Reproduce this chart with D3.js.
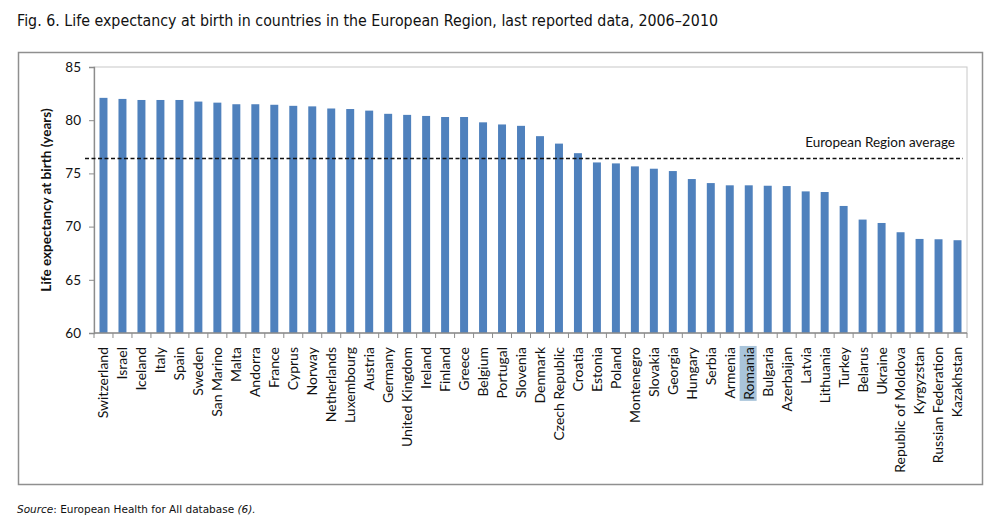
<!DOCTYPE html>
<html>
<head>
<meta charset="utf-8">
<script src="https://cdn.jsdelivr.net/npm/d3@7"></script>
<style>
  body { margin: 0; background: #fff; }
  svg { display: block; }
</style>
</head>
<body>
<div id="chart"></div>
<script>
// countries, ordered as in the figure
const countries = ["Switzerland", "Israel", "Iceland", "Italy", "Spain", "Sweden", "San Marino", "Malta",
  "Andorra", "France", "Cyprus", "Norway", "Netherlands", "Luxembourg", "Austria", "Germany",
  "United Kingdom", "Ireland", "Finland", "Greece", "Belgium", "Portugal", "Slovenia", "Denmark",
  "Czech Republic", "Croatia", "Estonia", "Poland", "Montenegro", "Slovakia", "Georgia", "Hungary",
  "Serbia", "Armenia", "Romania", "Bulgaria", "Azerbaijan", "Latvia", "Lithuania", "Turkey",
  "Belarus", "Ukraine", "Republic of Moldova", "Kyrgyzstan", "Russian Federation", "Kazakhstan"];

const lifeExpectancy = [82.1, 82.0, 81.9, 81.9, 81.9, 81.75, 81.65, 81.5,
  81.5, 81.45, 81.35, 81.3, 81.1, 81.05, 80.9, 80.6,
  80.5, 80.4, 80.3, 80.3, 79.8, 79.6, 79.47, 78.5,
  77.8, 76.9, 76.03, 75.94, 75.66, 75.44, 75.22, 74.47,
  74.09, 73.88, 73.88, 73.84, 73.81, 73.31, 73.25, 71.94,
  70.66, 70.34, 69.47, 68.84, 68.81, 68.72];

const regionAverage = 76.4;
const yTicks = [60, 65, 70, 75, 80, 85];
const highlighted = "Romania";

const width = 987, height = 524;
const plot = { left: 94, right: 967, top: 67, bottom: 333 };

const svg = d3.select("#chart").append("svg")
  .attr("width", width)
  .attr("height", height);

// title
svg.append("text")
  .attr("x", 17).attr("y", 26)
  .attr("font-family", "DejaVu Sans")
  .attr("font-size", 15)
  .attr("textLength", 701)
  .attr("lengthAdjust", "spacingAndGlyphs")
  .attr("fill", "#111")
  .text("Fig. 6. Life expectancy at birth in countries in the European Region, last reported data, 2006–2010");

// chart frame
svg.append("rect")
  .attr("x", 18.5).attr("y", 52.5)
  .attr("width", 964).attr("height", 432)
  .attr("fill", "none")
  .attr("stroke", "#8f8f8f")
  .attr("stroke-width", 1.5);

const x = d3.scaleBand()
  .domain(countries)
  .range([plot.left, plot.right])
  .paddingInner(0.58)
  .paddingOuter(0.29);

const y = d3.scaleLinear()
  .domain([60, 85])
  .range([plot.bottom, plot.top]);

// plot area border (light)
svg.append("rect")
  .attr("x", plot.left).attr("y", plot.top)
  .attr("width", plot.right - plot.left).attr("height", plot.bottom - plot.top)
  .attr("fill", "none")
  .attr("stroke", "#c8c8c8");

// bars
svg.selectAll("rect.bar")
  .data(countries)
  .enter()
  .append("rect")
  .attr("class", "bar")
  .attr("x", d => x(d))
  .attr("width", x.bandwidth())
  .attr("y", (d, i) => y(lifeExpectancy[i]))
  .attr("height", (d, i) => y(60) - y(lifeExpectancy[i]))
  .attr("fill", "#4f81bd");

// y axis
const yAxis = svg.append("g")
  .attr("transform", `translate(${plot.left},0)`)
  .call(d3.axisLeft(y).tickValues(yTicks).tickSize(5).tickPadding(8));
yAxis.select(".domain").attr("stroke", "#8c8c8c").attr("stroke-width", 1.3);
yAxis.selectAll(".tick line").attr("stroke", "#8c8c8c");
yAxis.selectAll(".tick text")
  .attr("font-family", "Lato")
  .attr("font-size", 13.5)
  .attr("fill", "#111");

// x axis: ticks between categories
const xAxis = svg.append("g")
  .attr("transform", `translate(0,${plot.bottom})`);
xAxis.append("line")
  .attr("x1", plot.left).attr("x2", plot.right)
  .attr("stroke", "#8c8c8c").attr("stroke-width", 1.3);
const step = x.step();
xAxis.selectAll("line.tick")
  .data(d3.range(countries.length + 1))
  .enter()
  .append("line")
  .attr("class", "tick")
  .attr("x1", i => plot.left + i * step)
  .attr("x2", i => plot.left + i * step)
  .attr("y1", 0).attr("y2", 5)
  .attr("stroke", "#8c8c8c");

const labels = xAxis.selectAll("g.lbl")
  .data(countries)
  .enter()
  .append("g")
  .attr("class", "lbl")
  .attr("transform", d => `translate(${x(d) + x.bandwidth() / 2},14) rotate(-90)`);

labels.append("text")
  .attr("text-anchor", "end")
  .attr("dy", "0.35em")
  .attr("font-family", "Lato")
  .attr("font-size", 14)
  .attr("fill", "#111")
  .text(d => d);

// selection highlight behind one label
labels.filter(d => d === highlighted).each(function() {
  const g = d3.select(this);
  const bb = g.select("text").node().getBBox();
  g.insert("rect", "text")
    .attr("x", bb.x - 1).attr("y", bb.y)
    .attr("width", bb.width + 2).attr("height", bb.height)
    .attr("fill", "#a9c4da");
});

// y axis title
svg.append("text")
  .attr("transform", `translate(51,${(plot.top + plot.bottom) / 2}) rotate(-90)`)
  .attr("text-anchor", "middle")
  .attr("font-family", "Lato")
  .attr("font-weight", "bold")
  .attr("font-size", 13.5)
  .attr("fill", "#111")
  .text("Life expectancy at birth (years)");

// European Region average line
svg.append("line")
  .attr("x1", 85).attr("x2", 963)
  .attr("y1", y(regionAverage)).attr("y2", y(regionAverage))
  .attr("stroke", "#111")
  .attr("stroke-width", 1.3)
  .attr("stroke-dasharray", "4,2.5");

svg.append("text")
  .attr("x", 955).attr("y", y(regionAverage) - 12)
  .attr("text-anchor", "end")
  .attr("font-family", "Lato")
  .attr("font-size", 13.5)
  .attr("fill", "#111")
  .text("European Region average");

// source note
const src = svg.append("text")
  .attr("x", 17).attr("y", 513)
  .attr("font-family", "DejaVu Sans")
  .attr("font-size", 10.5)
  .attr("fill", "#111");
src.append("tspan").attr("font-style", "italic").text("Source");
src.append("tspan").text(": European Health for All database ");
src.append("tspan").attr("font-style", "italic").text("(6).");
</script>
</body>
</html>
